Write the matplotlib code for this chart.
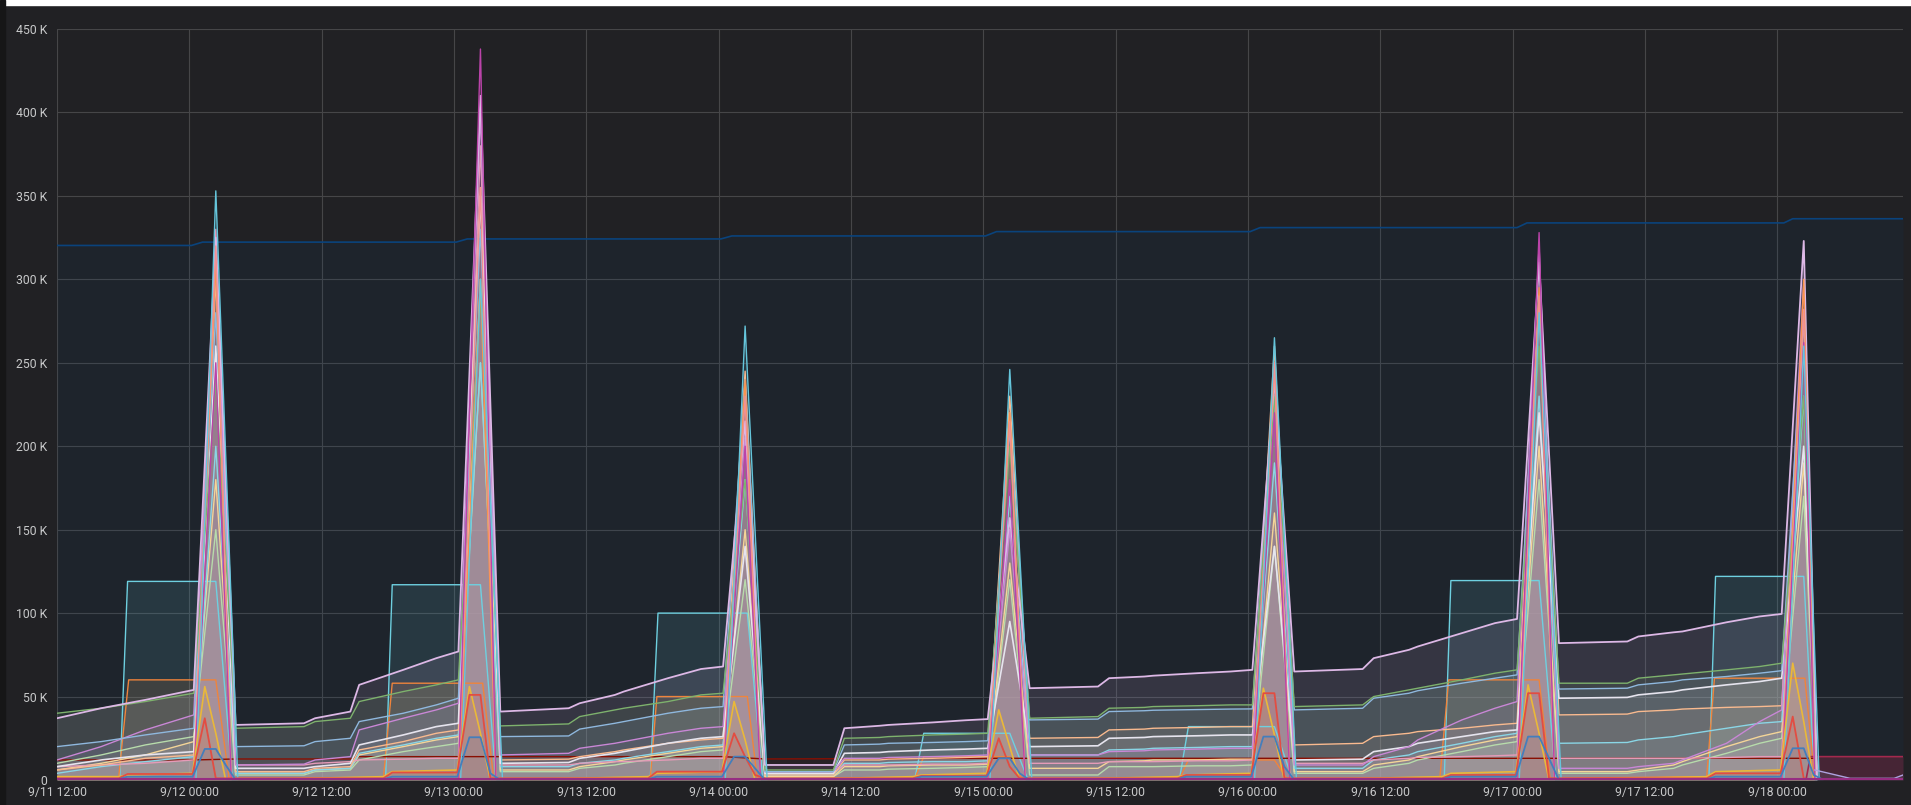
import pandas as pd
import matplotlib
matplotlib.use('Agg')
import matplotlib.pyplot as plt
import matplotlib.dates as mdates
from matplotlib.ticker import FuncFormatter, MultipleLocator

start = pd.Timestamp('2020-09-11 00:00')

# all times are hours after 9/11 00:00, all values are in K

# daily growing counters share one time grid
# per day: pre-spike, peak, post-spike, then the climb until the next day
t_grow = [12, 16, 20,
          24.4, 26.4, 28.2, 34.4, 35.4, 38.6, 39.4, 43.4, 46.4,
          48.4, 50.4, 52.2, 58.4, 59.4, 62.6, 63.4, 67.4, 70.4,
          72.4, 74.4, 76.2, 82.4, 83.4, 86.6, 87.4, 91.4, 94.4,
          96.4, 98.4, 100.2, 106.4, 107.4, 110.6, 111.4, 115.4, 118.4,
          120.4, 122.4, 124.2, 130.4, 131.4, 134.6, 135.4, 139.4, 142.4,
          144.4, 146.4, 148.2, 154.4, 155.4, 158.6, 159.4, 163.4, 166.4,
          168.4, 170.4, 171.6]

lav = [37, 43, 48,
       54, 325, 33, 34, 37, 41, 57, 66, 73,
       77, 410, 41, 43, 46, 51, 53, 61, 66.5,
       68, 215, 9, 9, 31, 32.5, 33, 34.5, 35.8,
       36.5, 157, 55, 56, 61, 62, 62.5, 64, 65,
       66, 240, 65, 66.5, 73, 78, 80, 88, 94,
       96.5, 310, 82, 83, 86, 88.5, 89, 94.5, 98,
       99.5, 323, 0]
green = [40, 43, 47,
         52, 240, 31, 32, 35, 37, 47, 53, 57,
         60, 290, 32.4, 33.6, 38, 42, 43, 47, 51,
         52, 180, 6, 6, 25, 25.5, 26, 27, 27.5,
         28, 200, 37, 38, 43, 43.5, 44, 44.5, 45,
         45, 230, 44, 45, 50, 54, 55, 60, 64,
         66, 260, 58, 58, 61, 63, 63.5, 66, 68,
         70, 230, 0]
ltblue = [20, 23, 27,
          31, 280, 20, 20.5, 23, 25, 35, 40, 45,
          49, 330, 26, 26.4, 30.5, 34, 35, 40, 43,
          44, 240, 5, 5, 21, 21.5, 22, 22.5, 23,
          23.5, 210, 36, 36.5, 41, 41.5, 41.8, 42.2, 42.5,
          42.6, 250, 42, 43, 49, 52, 53.5, 58, 61,
          63, 290, 54.5, 55, 57, 59, 60, 62, 64,
          65.5, 280, 0]
lilac = [12, 20, 30,
         39, 310, 9, 9.5, 12, 14, 30, 37, 42,
         46, 400, 15, 16, 19, 22, 23, 28, 31,
         32, 205, 5, 5, 13, 13, 13.5, 14, 14.5,
         15, 150, 15, 15, 17, 17.5, 18, 18.5, 19,
         19, 230, 9, 9, 14, 20, 24, 36, 43,
         47, 320, 7, 7, 8, 10, 12, 22, 35,
         42, 300, 0]
white = [8, 12, 15,
         17, 260, 7, 7, 8, 10, 21, 27, 32,
         34, 350, 10, 10.5, 13, 16, 17, 22, 25,
         26, 140, 4, 4, 16, 16.5, 17, 18, 18.5,
         19, 95, 20, 20.5, 25, 25.5, 26, 26.5, 27,
         27, 140, 12, 12.5, 17, 20, 22, 26, 29,
         30, 220, 49, 49.5, 51, 53, 54, 57, 59,
         61, 200, 0]
peach = [6, 9, 13,
         15, 300, 5, 5, 7, 8, 18, 23, 28,
         30, 355, 12, 12.5, 14, 17, 18, 22, 24,
         25, 245, 3, 3, 12, 12, 12.5, 13, 13.5,
         14, 230, 25, 25.5, 30, 30.5, 31, 31.5, 32,
         32, 260, 21, 22, 26, 28, 29, 31, 33,
         34, 290, 39, 39.5, 41, 42, 42.5, 43.5, 44,
         44.5, 280, 0]
teal = [4, 8, 11,
        14, 200, 4, 4, 6, 7, 16, 21, 25,
        27, 250, 8, 8, 10, 12, 13, 17, 20,
        21, 180, 3, 3, 10, 10, 10.5, 11, 11,
        11.5, 170, 15, 15, 18, 18.5, 19, 19.5, 20,
        20, 190, 7, 7, 12, 15, 17, 22, 26,
        28, 230, 22, 22.5, 24, 26, 27, 31, 34,
        35, 230, 0]
beige = [6, 10, 15,
         23, 180, 4, 4, 6, 7, 15, 20, 24,
         26, 300, 6, 6, 8, 11, 12, 16, 19,
         20, 150, 2, 2, 8, 8, 8.5, 9, 9,
         9.5, 130, 7, 7, 11, 11.5, 12, 12, 12.5,
         12.5, 160, 5, 5, 9, 12, 14, 20, 24,
         26, 200, 5, 5, 6, 9, 11, 20, 26,
         29, 190, 0]
ltgreen = [10, 15, 21,
           26, 150, 3, 3, 5, 6, 12, 17, 20,
           22, 250, 5, 5, 7, 9, 10, 14, 17,
           18, 120, 2, 2, 6, 6, 6.5, 7, 7.5,
           8, 120, 3, 3, 8, 8, 8, 8.5, 8.5,
           9, 140, 4, 4, 7, 10, 12, 17, 21,
           23, 180, 4, 4, 5, 7, 9, 16, 22,
           25, 170, 0]
pink = [8, 9, 10,
        12, 330, 9, 9, 10, 11, 12, 12.5, 13,
        13, 380, 9, 9, 10, 11, 11, 12, 13,
        13, 230, 4, 4, 9, 9, 9, 9.5, 9.5,
        10, 220, 10, 10, 11, 11, 11, 11.5, 11.5,
        12, 250, 10, 10, 12, 13, 13.5, 14, 14.5,
        15, 290, 13, 13, 13, 13, 13, 13.5, 14,
        14, 282, 0]

# evening "box" series
t_cbox = [12, 17.7, 18.4, 26.4, 27.9,
          41.8, 42.4, 50.4, 51.8,
          65.8, 66.5, 74.6, 76.0,
          89.8, 90.6, 98.4, 100.0,
          113.8, 114.6, 122.4, 124.0,
          137.8, 138.4, 146.4, 147.9,
          161.8, 162.4, 170.4, 171.4]
cyanbox = [2, 2, 119, 119, 1,
           1, 117, 117, 1,
           1, 100, 100, 1,
           1, 28, 28, 1,
           1, 32, 32, 1,
           1, 119.5, 119.5, 1,
           1, 122, 122, 0]
t_obox = [12, 17.6, 18.5, 26.4, 27.6,
          41.6, 42.4, 50.6, 51.6,
          65.8, 66.4, 74.6, 75.5,
          89.8, 90.6, 98.4, 99.5,
          113.8, 114.6, 122.4, 123.5,
          137.4, 138.2, 146.4, 147.4,
          161.6, 162.3, 170.5, 171.4]
orangebox = [2, 2, 60, 60, 1,
             1, 58, 58, 1,
             1, 50, 50, 1,
             1, 14, 14, 1,
             1, 12, 12, 1,
             1, 60, 60, 1,
             2, 61, 61, 0]

# small triangles around midnight
t_tri = [12,
         17.6, 18.4, 24.3, 25.4, 26.4, 27.3, 28.2,
         41.6, 42.4, 48.3, 49.4, 50.4, 51.3, 52.2,
         65.6, 66.4, 72.3, 73.4, 74.4, 75.3, 76.2,
         89.6, 90.4, 96.3, 97.4, 98.4, 99.3, 100.2,
         113.6, 114.4, 120.3, 121.4, 122.4, 123.3, 124.2,
         137.6, 138.4, 144.3, 145.4, 146.4, 147.3, 148.2,
         161.6, 162.4, 168.3, 169.4, 170.4, 171.3, 172.2]
red = [1,
       1, 3.6, 3.6, 37, 1, 1, 1,
       1, 4.5, 4.5, 51, 51, 1, 1,
       1, 5, 5, 28, 14, 3, 1,
       1, 2.5, 2.5, 25, 8, 1, 1,
       1, 3, 3, 52, 52, 1, 1,
       1, 3, 3, 52, 52, 1, 1,
       1, 4, 4, 38, 1, 0, 0]
blue = [0.5,
        0.5, 2, 2, 18.6, 18.6, 9, 0,
        0.5, 2, 2, 25.6, 25.6, 4, 0,
        0.5, 2, 2, 14, 14, 7, 0,
        0.5, 2, 2, 13, 13, 4, 0,
        0.5, 2, 2, 26, 26, 8, 0,
        0.5, 2, 2, 26, 26, 13, 0,
        0.5, 2, 2, 19, 19, 3, 0]
yellow = [2,
          2, 3, 4, 56, 28, 0, 0,
          2, 5, 6, 56, 28, 0, 0,
          2, 4, 5, 47, 24, 0, 0,
          2, 3, 4, 42, 20, 0, 0,
          2, 3, 4, 55, 27, 0, 0,
          2, 4, 5, 57, 28, 0, 0,
          2, 5, 6, 70, 35, 0, 0]

# needle-only series (zero outside the nightly spike)
t_spk = [24.4, 26.4, 27.8, 48.4, 50.4, 51.8, 72.4, 74.4, 75.8,
         96.4, 98.4, 99.8, 120.4, 122.4, 123.8, 144.4, 146.4, 147.8,
         168.4, 170.4, 171.4]
t_cspk = [24.6, 26.4, 28.4, 48.6, 50.4, 52.4, 72.6, 74.4, 76.4,
          96.6, 98.4, 100.4, 120.6, 122.4, 124.4, 144.6, 146.4, 148.4,
          168.6, 170.4, 171.8]
cyanspk = [0, 353, 0, 0, 300, 0, 0, 272, 0, 0, 246, 0, 0, 265, 0, 0, 280, 0, 0, 260, 0]
magspk = [0, 250, 0, 0, 438, 0, 0, 200, 0, 0, 180, 0, 0, 220, 0, 0, 328, 0, 0, 262, 0]
pinkspk = [0, 320, 0, 0, 355, 0, 0, 230, 0, 0, 215, 0, 0, 250, 0, 0, 290, 0, 0, 282, 0]
orgspk = [0, 310, 0, 0, 300, 0, 0, 240, 0, 0, 220, 0, 0, 250, 0, 0, 295, 0, 0, 300, 0]

# slow stepping total on top
t_top = [12, 24.2, 25.2, 48.2, 49.2, 72.2, 73.2, 96.2, 97.2,
         120.2, 121.1, 144.4, 145.3, 168.6, 169.4, 179.4]
top = [320.3, 320.3, 322.3, 322.3, 324.2, 324.2, 326.0, 326.0, 328.6,
       328.6, 331.0, 331.0, 333.8, 333.8, 336.3, 336.3]

# low dark red level, the maroon block at the end and the small tail
t_dred = [12, 24.4, 28.2, 38.6, 39.4, 72.4, 76.2, 96.4, 120.4,
          144.4, 168.4, 171.4]
dred = [12, 12, 12.6, 12.6, 14, 14, 12.6, 13, 13, 13, 13, 13]
t_end = [170.6, 171.0, 179.4]
endred = [0, 14, 14]
t_tail = [171.4, 174.6, 178.6, 179.4]
tail = [6, 1, 1, 3]
t_base = [12, 179.4]
base = [0.8, 0.8]


def hx(hours):
    return mdates.date2num((start + pd.to_timedelta(hours, unit='h')).to_pydatetime())


bg = '#212124'
fig = plt.figure(figsize=(19.11, 8.05), dpi=100, facecolor=bg)
ax = fig.add_axes([57 / 1911, 25 / 805, (1903 - 57) / 1911, 751 / 805])
ax.set_facecolor(bg)


def draw(t, v, color, lw=1.0, alpha=0.12, z=2):
    x = hx(t)
    ax.fill_between(x, v, 0, color=color, alpha=alpha, linewidth=0, zorder=z)
    ax.plot(x, v, color=color, lw=lw, zorder=z + 0.5)


draw(t_top, top, '#0A437C', lw=1.2, alpha=0.1)
draw(t_cbox, cyanbox, '#6ED0E0')
draw(t_obox, orangebox, '#EF843C')
draw(t_dred, dred, '#890F02', alpha=0.1)
draw(t_end, endred, '#A3294D', alpha=0.3, lw=1.2)
draw(t_grow, ltgreen, '#B7DBAB')
draw(t_grow, beige, '#F4D598')
draw(t_grow, teal, '#8AD6E6')
draw(t_grow, pink, '#E59BB8')
draw(t_grow, peach, '#F9BA8F')
draw(t_grow, white, '#E6E4EE', lw=1.2)
draw(t_grow, lilac, '#C987D6')
draw(t_grow, ltblue, '#8FB8DE')
draw(t_grow, green, '#7EB26D')
draw(t_grow, lav, '#DDB8E6', lw=1.3)
draw(t_spk, orgspk, '#F9934E')
draw(t_spk, pinkspk, '#F29191')
draw(t_spk, magspk, '#BA43A9')
draw(t_cspk, cyanspk, '#65C5DB')
draw(t_tri, yellow, '#EAB839', lw=1.2)
draw(t_tri, red, '#E24D42', lw=1.3)
draw(t_tri, blue, '#447EBC', lw=1.3)
draw(t_tail, tail, '#AEA2E0')
draw(t_base, base, '#962D82', lw=1.5)

ax.set_xlim(hx(12.03), hx(179.4))
ax.set_ylim(0, 450)
ax.yaxis.set_major_locator(MultipleLocator(50))
ax.yaxis.set_major_formatter(FuncFormatter(lambda v, p: '0' if v == 0 else f'{v:.0f} K'))
ax.set_xticks([hx(12 + 12 * k) for k in range(14)])


def fmt_time(x, p):
    d = mdates.num2date(x)
    return f'{d.month}/{d.day} {d:%H:%M}'


ax.xaxis.set_major_formatter(FuncFormatter(fmt_time))
ax.grid(True, color='#464648', lw=0.8)
ax.set_axisbelow(True)
for s in ax.spines.values():
    s.set_visible(False)
ax.tick_params(colors='#c8c9ca', length=0, labelsize=8.8, pad=7)
for lab in ax.get_xticklabels() + ax.get_yticklabels():
    lab.set_fontfamily('Roboto')
ax.tick_params(axis='x', pad=4)

# white strip at the top of the screenshot
fig.patches.append(plt.Rectangle((0, 1 - 5 / 805), 1, 5 / 805, transform=fig.transFigure,
                                 color='white', zorder=10))
fig.patches.append(plt.Rectangle((0, 0), 5 / 1911, 1, transform=fig.transFigure,
                                 color='#161617', zorder=10))

fig.savefig('out.png', dpi=100, facecolor=bg)
